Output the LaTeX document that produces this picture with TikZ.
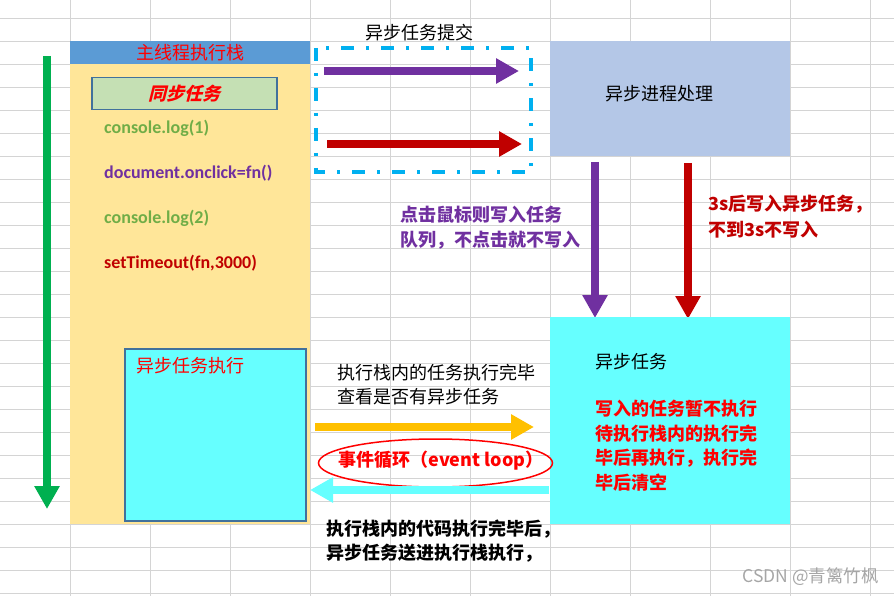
\documentclass[tikz,border=0pt]{standalone}
\usepackage{fontspec}
\setmainfont{Carlito}
\newfontfamily\cjk{Noto Sans CJK SC}
\newfontfamily\cjkit[FakeSlant=0.25]{Noto Sans CJK SC}
\usetikzlibrary{arrows.meta,shapes.geometric}

\definecolor{gridgray}{HTML}{D4D4D4}
\definecolor{stackyellow}{HTML}{FFE699}
\definecolor{headblue}{HTML}{5B9BD5}
\definecolor{syncgreen}{HTML}{C5E0B4}
\definecolor{edgeblue}{HTML}{41719C}
\definecolor{procblue}{HTML}{B4C7E7}
\definecolor{taskcyan}{HTML}{66FFFF}
\definecolor{dashcyan}{HTML}{00B0F0}
\definecolor{loopgreen}{HTML}{00B050}
\definecolor{codegreen}{HTML}{70AD47}
\definecolor{clickpurple}{HTML}{7030A0}
\definecolor{darkred}{HTML}{C00000}
\definecolor{loopred}{HTML}{FF0000}
\definecolor{checkorange}{HTML}{FFC000}
\definecolor{markgray}{HTML}{A6A6A6}

\begin{document}
\begin{tikzpicture}[x=1pt,y=-1pt,
	gridline/.style={draw=gridgray,line width=0.8pt},
	fatarrow/.style={line width=8pt,-{Triangle[width=24pt,length=23pt]}},
	zh/.style={font=\cjk\fontsize{18}{24.5}\selectfont,inner sep=0pt,anchor=west,align=left},
	code/.style={font=\bfseries\fontsize{18}{22}\selectfont,inner sep=0pt,anchor=west}]
	\useasboundingbox (0,0) rectangle (894,596);
	
	% Sheet grid
	\foreach \gy in {0,...,25} \draw[gridline] (0,18+23*\gy) -- (894,18+23*\gy);
	\foreach \gx in {0,...,10} \draw[gridline] (70+80*\gx,0) -- (70+80*\gx,596);
	
	% Main thread stack
	\fill[stackyellow] (70,64) rectangle (310,524);
	\node[fill=headblue,minimum width=240pt,minimum height=23pt,inner sep=0pt,anchor=north west,
		font=\cjk\fontsize{18}{20}\selectfont,text=loopred] (head) at (70,41) {主线程执行栈};
	\node[draw=edgeblue,line width=1.5pt,fill=syncgreen,minimum width=185pt,minimum height=32pt,
		inner sep=0pt,anchor=north west,font=\cjkit\bfseries\fontsize{18}{20}\selectfont,text=loopred] (sync) at (91,77) {同步任务};
	
	\node[code,text=codegreen] (log1) at (104,128) {console.log(1)};
	\node[code,text=clickpurple] (click) at (104,173) {document.onclick=fn()};
	\node[code,text=codegreen] (log2) at (104,218) {console.log(2)};
	\node[code,text=darkred] (timer) at (104,263) {setTimeout(fn,3000)};
	
	\node[draw=edgeblue,line width=2pt,fill=taskcyan,minimum width=181pt,minimum height=172pt,
		inner sep=0pt,anchor=north west] (exec) at (124,348) {};
	\node[zh,text=loopred] (execlabel) at (136,366) {异步任务执行};
	
	% Time runs downwards
	\coordinate (tTop) at (47,56);
	\coordinate (tEnd) at (47,509);
	\draw[fatarrow,loopgreen] (tTop) -- (tEnd);
	
	% Submit box
	\node[zh,text=black] (submit) at (365,33) {异步任务提交};
	\draw[dashcyan,line width=4pt,dash pattern=on 13pt off 12pt on 3pt off 12pt] (316,48) rectangle (531,172);
	\coordinate (sub1a) at (324,71);
	\coordinate (sub1b) at (519,71);
	\coordinate (sub2a) at (327,144);
	\coordinate (sub2b) at (522,144);
	\draw[fatarrow,clickpurple] (sub1a) -- (sub1b);
	\draw[fatarrow,darkred] (sub2a) -- (sub2b);
	
	% Async process
	\node[fill=procblue,minimum width=240pt,minimum height=115pt,inner sep=0pt,anchor=north west] (proc) at (550,41) {};
	\node[zh,text=black] (proclabel) at (605,94) {异步进程处理};
	
	\coordinate (down1a) at (595,162);
	\coordinate (down1b) at (595,318);
	\coordinate (down2a) at (688,163);
	\coordinate (down2b) at (688,319);
	\draw[fatarrow,clickpurple] (down1a) -- (down1b);
	\draw[fatarrow,darkred] (down2a) -- (down2b);
	\node[zh,font=\cjk\bfseries\fontsize{18}{25}\selectfont,text=clickpurple] (clicknote) at (400,227.5) {点击鼠标则写入任务\\队列，不点击就不写入};
	\node[zh,font=\cjk\bfseries\fontsize{18}{26}\selectfont,text=darkred] (timernote) at (708,216.5) {3s后写入异步任务，\\不到3s不写入};
	
	% Task queue
	\node[fill=taskcyan,minimum width=240pt,minimum height=207pt,inner sep=0pt,anchor=north west] (queue) at (550,317) {};
	\node[zh,text=black] (queuelabel) at (595,362) {异步任务};
	\node[zh,font=\cjk\bfseries\fontsize{18}{24.5}\selectfont,text=loopred] (queuenote) at (595,445.5)
		{写入的任务暂不执行\\待执行栈内的执行完\\毕后再执行，执行完\\毕后清空};
	
	% Event loop
	\node[zh,text=black] (checknote) at (337,384.5) {执行栈内的任务执行完毕\\查看是否有异步任务};
	\coordinate (checka) at (315,427);
	\coordinate (checkb) at (534,427);
	\draw[fatarrow,checkorange] (checka) -- (checkb);
	\node[draw=loopred,line width=1.5pt,ellipse,minimum width=234pt,minimum height=48pt,inner sep=0pt] (loop) at (435.5,463) {};
	\node[font=\cjk\bfseries\fontsize{18}{20}\selectfont,text=loopred,inner sep=0pt] (looplabel) at (441,461) {事件循环（event loop）};
	\coordinate (backa) at (549,490);
	\coordinate (backb) at (310,490);
	\draw[fatarrow,taskcyan] (backa) -- (backb);
	\node[zh,font=\cjk\bfseries\fontsize{18}{24}\selectfont,text=black] (backnote) at (326,541) {执行栈内的代码执行完毕后，\\异步任务送进执行栈执行，};
	
	% Watermark
	\node[font=\cjk\fontsize{17.5}{19}\selectfont,text=markgray,inner sep=0pt,anchor=east] (mark) at (879,577) {CSDN @青篱竹枫};
\end{tikzpicture}
\end{document}
